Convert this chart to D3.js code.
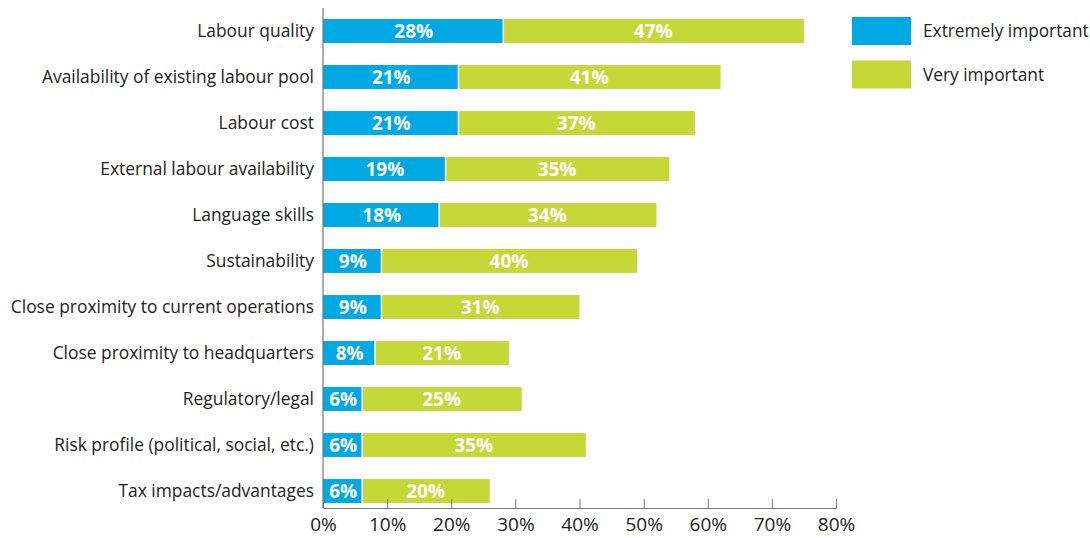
<!DOCTYPE html>
<html><head><meta charset="utf-8">
<script src="https://cdn.jsdelivr.net/npm/d3@7"></script>
<style>body{margin:0;background:#fff;font-family:"Open Sans","Noto Sans",sans-serif;}</style>
</head><body><svg id="c" width="1090" height="538"></svg>
<script>
const categories = ["Labour quality","Availability of existing labour pool","Labour cost","External labour availability","Language skills","Sustainability","Close proximity to current operations","Close proximity to headquarters","Regulatory/legal","Risk profile (political, social, etc.)","Tax impacts/advantages"];
const extremely = [28,21,21,19,18,9,9,8,6,6,6];
const very = [47,41,37,35,34,40,31,21,25,35,20];
const seriesNames = ["Extremely important","Very important"];
const ticks = [0,10,20,30,40,50,60,70,80];
const colors = ["#00A9E3","#C4D838"];

const svg = d3.select("#c");
const x = d3.scaleLinear().domain([0,80]).range([323,836]);
const y = d3.scaleBand().domain(categories).range([8,514]).paddingInner(0.48).paddingOuter(0.24);

const g = svg.append("g");
categories.forEach((c,i)=>{
  const yy = y(c), h = y.bandwidth();
  g.append("rect").attr("x",x(0)).attr("y",yy).attr("width",x(extremely[i])-x(0)).attr("height",h).attr("fill",colors[0]);
  g.append("rect").attr("x",x(extremely[i])+1.5).attr("y",yy).attr("width",x(extremely[i]+very[i])-x(extremely[i])-1.5).attr("height",h).attr("fill",colors[1]);
  g.append("text").attr("x",(x(0)+x(extremely[i]))/2+1).attr("y",yy+h/2).attr("dy","0.36em").attr("text-anchor","middle")
    .attr("fill","#fff").attr("font-weight","bold").attr("font-size",19).text(extremely[i]+"%");
  g.append("text").attr("x",(x(extremely[i])+x(extremely[i]+very[i]))/2).attr("y",yy+h/2).attr("dy","0.36em").attr("text-anchor","middle")
    .attr("fill","#fff").attr("font-weight","bold").attr("font-size",19).text(very[i]+"%");
  g.append("text").attr("x",314).attr("y",yy+h/2).attr("dy","0.36em").attr("text-anchor","end")
    .attr("fill","#222").attr("font-size",17.4).text(c);
});

// axes
svg.append("line").attr("x1",x(0)).attr("x2",x(0)).attr("y1",8).attr("y2",508).attr("stroke","#777").attr("stroke-width",1.2);
const xa = svg.append("g").attr("transform","translate(0,508)")
  .call(d3.axisBottom(x).tickValues(ticks).tickSizeInner(-9).tickSizeOuter(0).tickPadding(7).tickFormat(d=>d+"%"));
xa.select(".domain").attr("stroke","#777").attr("stroke-width",1.2);
xa.selectAll(".tick line").attr("stroke","#777");
xa.selectAll(".tick text").attr("font-size",19).attr("fill","#222").attr("font-family","'Open Sans','Noto Sans',sans-serif").attr("dy","0.85em");

// legend
const leg = svg.append("g");
seriesNames.forEach((s,i)=>{
  leg.append("rect").attr("x",852).attr("y",17+i*43.5).attr("width",59).attr("height",28).attr("fill",colors[i]);
  leg.append("text").attr("x",923).attr("y",31+i*44).attr("dy","0.36em").attr("font-size",17.3).attr("fill","#222").text(s);
});
</script></body></html>
